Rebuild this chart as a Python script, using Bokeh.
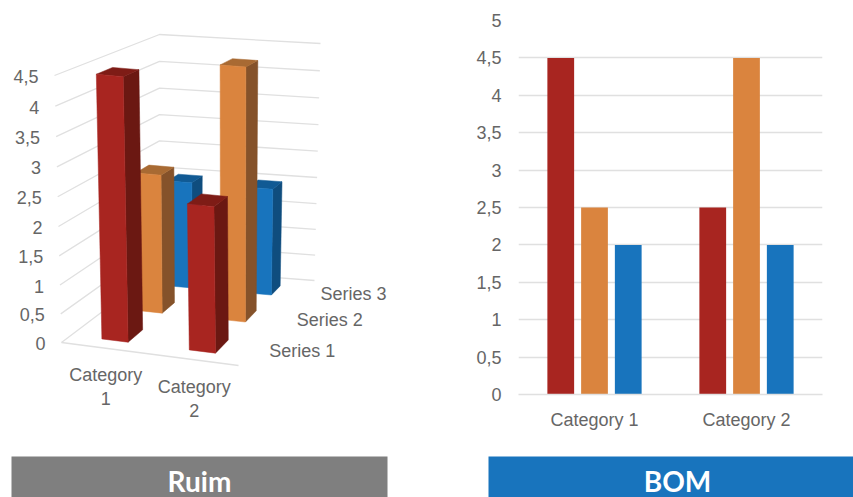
from bokeh.core.properties import value
from bokeh.embed import file_html
from bokeh.layouts import column, row
from bokeh.models import ColumnDataSource, FactorRange, FixedTicker, Range1d
from bokeh.plotting import figure
from bokeh.resources import INLINE
from bokeh.transform import dodge

categories = ["Category 1", "Category 2"]
series_names = ["Series 1", "Series 2", "Series 3"]
series_1 = [4.5, 2.5]
series_2 = [2.5, 4.5]
series_3 = [2.0, 2.0]
ticks_3d = [0, 0.5, 1, 1.5, 2, 2.5, 3, 3.5, 4, 4.5]
ticks_2d = [0, 0.5, 1, 1.5, 2, 2.5, 3, 3.5, 4, 4.5, 5]
banner_left = "Ruim"
banner_right = "BOM"

RED, RED_SIDE, RED_TOP = "#A82520", "#6B1812", "#7E1C16"
ORANGE, ORANGE_SIDE, ORANGE_TOP = "#DA843E", "#85522A", "#A86A33"
BLUE, BLUE_SIDE, BLUE_TOP = "#1874BD", "#0F4D7E", "#115A94"
TEXT = "#666666"
GRID = "#E0E0E0"
FONT = "Liberation Sans"
FS = "18px"
VMAX = 4.5


def fmt(t):
    return str(t).replace(".0", "").replace(".", ",")


# ---- view of the 3-D chart: corners of the box on screen, in chart pixels
FLOOR = {"fl": (61, 342), "fr": (238, 365), "bl": (159, 268), "br": (314, 280)}
CEIL = {"fl": (54, 75), "fr": (235, 92), "bl": (159, 34), "br": (320, 43)}
# depth of each series' front and back face, as a fraction of the box depth
DEPTH = [(0.10, 0.26), (0.475, 0.61), (0.80, 0.91)]


def plane(c, u, t):
    s = u / 2
    out = []
    for k in (0, 1):
        front = c["fl"][k] + s * (c["fr"][k] - c["fl"][k])
        back = c["bl"][k] + s * (c["br"][k] - c["bl"][k])
        out.append(front + t * (back - front))
    return out


def proj(u, t, v):
    h = v / VMAX
    f = h * (1 - 0.04 * (1 - h))
    a, b = plane(FLOOR, u, t), plane(CEIL, u, t)
    return a[0] + f * (b[0] - a[0]), a[1] + f * (b[1] - a[1])


def poly(pts):
    xy = [proj(*q) for q in pts]
    return [q[0] for q in xy], [q[1] for q in xy]


L_W, TOP_H, BAN_H, R_W = 465, 456, 41, 388
left = figure(width=L_W, height=TOP_H, output_backend="svg", toolbar_location=None,
              x_range=Range1d(0, L_W), y_range=Range1d(TOP_H, 0),
              min_border=0, min_border_left=0, min_border_right=0, min_border_top=0, min_border_bottom=0,
              x_axis_location=None, y_axis_location=None, outline_line_color=None)
left.grid.visible = False

for t in ticks_3d:
    x, y = zip(proj(0, 0, t), proj(0, 1, t), proj(2, 1, t))
    left.line(list(x), list(y), line_color=GRID, line_width=1.3)
x, y = zip(proj(0, 0, 0), proj(2, 0, 0))
left.line(list(x), list(y), line_color=GRID, line_width=1.3)

BW = 0.30
layers = [
    (DEPTH[2], series_3, BLUE, BLUE_SIDE, BLUE_TOP),
    (DEPTH[1], series_2, ORANGE, ORANGE_SIDE, ORANGE_TOP),
    (DEPTH[0], series_1, RED, RED_SIDE, RED_TOP),
]
for (w0, w1), vals, c_front, c_side, c_top in layers:
    for i, val in enumerate(vals):
        u0, u1 = i + 0.5 - BW / 2, i + 0.5 + BW / 2
        faces = [
            ([(u1, w0, 0), (u1, w1, 0), (u1, w1, val), (u1, w0, val)], c_side),
            ([(u0, w0, val), (u1, w0, val), (u1, w1, val), (u0, w1, val)], c_top),
            ([(u0, w0, 0), (u1, w0, 0), (u1, w0, val), (u0, w0, val)], c_front),
        ]
        for pts, col in faces:
            xs, ys = poly(pts)
            left.patch(xs, ys, fill_color=col, line_color=col, line_width=0.5)

for t in ticks_3d:
    x, y = proj(0, 0, t)
    left.text([x], [y], text=[fmt(t)], text_align="right", text_baseline="middle",
              x_offset=-16, y_offset=1, text_font=value(FONT), text_font_size=value("18px"), text_color=TEXT)

for i, c in enumerate(categories):
    x, y = proj(i + 0.5, 0, 0)
    left.text([x], [y], text=[c.replace(" ", "\n")], text_align="center", text_baseline="middle",
              y_offset=39, text_font=value(FONT), text_font_size=value(FS), text_color=TEXT)

for (w0, w1), s in zip(DEPTH, series_names):
    x, y = proj(2, (w0 + w1) / 2, 0)
    left.text([x], [y], text=[s], text_align="left", text_baseline="middle",
              x_offset=17, y_offset=1, text_font=value(FONT), text_font_size=value(FS), text_color=TEXT)

src = ColumnDataSource(dict(cat=categories, s1=series_1, s2=series_2, s3=series_3))
right = figure(width=R_W, height=TOP_H, output_backend="svg", toolbar_location=None,
               x_range=FactorRange(*categories, range_padding=0, factor_padding=0),
               y_range=Range1d(0, 5),
               min_border_left=53, min_border_right=31, min_border_top=20, min_border_bottom=62,
               outline_line_color=None)
for col, off, colr in (("s1", -0.222, RED), ("s2", 0, ORANGE), ("s3", 0.222, BLUE)):
    right.vbar(x=dodge("cat", off, range=right.x_range), top=col, width=0.176,
               source=src, fill_color=colr, line_color=None)
right.xgrid.visible = False
right.ygrid.ticker = FixedTicker(ticks=ticks_2d)
right.ygrid.grid_line_color = GRID
right.ygrid.grid_line_width = 1.3
right.yaxis.ticker = FixedTicker(ticks=ticks_2d)
right.yaxis.major_label_overrides = {t: fmt(t) for t in ticks_2d}
right.yaxis.axis_line_color = None
right.yaxis.major_tick_line_color = None
right.yaxis.major_tick_out = 0
right.yaxis.minor_tick_line_color = None
right.yaxis.major_label_standoff = 17
right.xaxis.axis_line_color = GRID
right.xaxis.axis_line_width = 1.3
right.xaxis.major_tick_line_color = None
right.xaxis.major_tick_out = 0
right.xaxis.minor_tick_line_color = None
right.xaxis.major_label_standoff = 15
for ax in (right.xaxis[0], right.yaxis[0]):
    ax.major_label_text_font = FONT
    ax.major_label_text_color = TEXT
right.xaxis.major_label_text_font_size = FS
right.yaxis.major_label_text_font_size = "18px"


def banner(width, label, colr, pad_l, pad_r, cx):
    b = figure(width=width, height=BAN_H, output_backend="svg", toolbar_location=None,
               x_range=Range1d(0, width - pad_l - pad_r), y_range=Range1d(0, BAN_H),
               min_border=0, min_border_left=pad_l, min_border_right=pad_r,
               min_border_top=0, min_border_bottom=0,
               x_axis_location=None, y_axis_location=None, outline_line_color=None,
               background_fill_color=colr)
    b.grid.visible = False
    b.text([cx - pad_l], [17], text=[label], text_align="center", text_baseline="middle",
           text_font=value("Lato"), text_font_style="bold",
           text_font_size=value("28px"), text_color="white")
    return b


ban_l = banner(L_W, banner_left, "#7F7F7F", 11, 78, 199)
ban_r = banner(R_W, banner_right, BLUE, 23, 0, 212)

page = column(row(column(left), column(right)), row(column(ban_l), column(ban_r)))
open("out.html", "w").write(file_html(page, INLINE))
